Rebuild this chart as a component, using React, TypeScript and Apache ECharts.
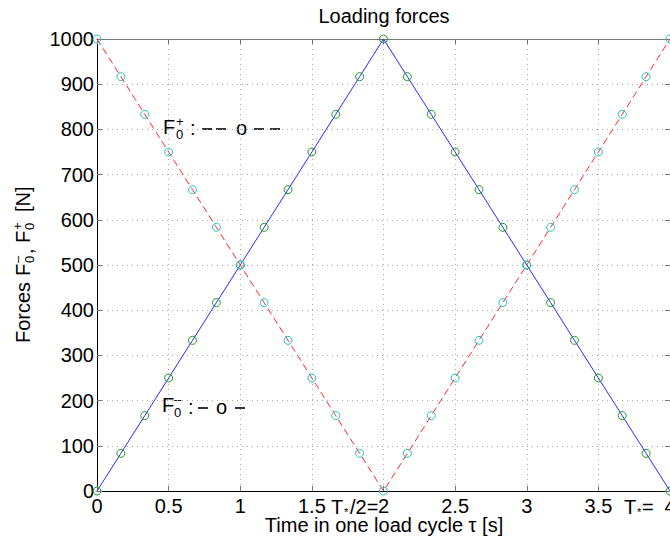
import React, { useEffect, useRef } from 'react';
import * as echarts from 'echarts';

// ---- data ----
const timeValues = [0, 0.1667, 0.3333, 0.5, 0.6667, 0.8333, 1, 1.1667, 1.3333, 1.5, 1.6667, 1.8333, 2, 2.1667, 2.3333, 2.5, 2.6667, 2.8333, 3, 3.1667, 3.3333, 3.5, 3.6667, 3.8333, 4];
const forceMinus = [0, 83.3, 166.7, 250, 333.3, 416.7, 500, 583.3, 666.7, 750, 833.3, 916.7, 1000, 916.7, 833.3, 750, 666.7, 583.3, 500, 416.7, 333.3, 250, 166.7, 83.3, 0];
const forcePlus = [1000, 916.7, 833.3, 750, 666.7, 583.3, 500, 416.7, 333.3, 250, 166.7, 83.3, 0, 83.3, 166.7, 250, 333.3, 416.7, 500, 583.3, 666.7, 750, 833.3, 916.7, 1000];
const xRange = [0, 4];
const xStep = 0.5;
const yRange = [0, 1000];
const yStep = 100;

const FONT = '"Liberation Sans", Arial, Helvetica, sans-serif';

function txt(text: string, x: number, y: number, size: number, align: string = 'left') {
  return {
    type: 'text',
    x,
    y,
    silent: true,
    style: {
      text,
      fontSize: size,
      fontFamily: FONT,
      fill: '#000',
      align,
      verticalAlign: 'middle',
      textAlign: align,
      textVerticalAlign: 'middle',
    },
  };
}

function dash(x: number, y: number) {
  return {
    type: 'line',
    silent: true,
    shape: { x1: x, y1: y, x2: x + 10, y2: y },
    style: { stroke: '#000', lineWidth: 1.6 },
  };
}

export default function App() {
  const ref = useRef<HTMLDivElement>(null);
  useEffect(() => {
    document.body.style.margin = '0';
    if (!ref.current) return;
    const chart = echarts.init(ref.current, undefined, { renderer: 'svg' });
    const grid = { left: 97, right: 0, top: 39, bottom: 53 };
    const dotted = { color: '#a8a8a8', width: 1, type: [1, 4] as any };
    chart.setOption({
      animation: false,
      backgroundColor: '#fff',
      grid: { ...grid, containLabel: false, outerBoundsMode: 'none' },
      xAxis: [
        {
          type: 'value',
          position: 'bottom',
          min: xRange[0],
          max: xRange[1],
          interval: xStep,
          axisLine: { show: true, onZero: false, lineStyle: { color: '#000', width: 1 } },
          axisTick: { show: true, inside: true, length: 5, lineStyle: { color: '#777' } },
          axisLabel: { show: true, fontSize: 20, color: '#000', fontFamily: FONT, margin: 5, showMinLabel: true, showMaxLabel: true, formatter: (v: number) => String(v) },
          splitLine: { show: true, lineStyle: dotted },
        },
        {
          type: 'value',
          position: 'top',
          min: xRange[0],
          max: xRange[1],
          interval: xStep,
          axisLine: { show: true, onZero: false, lineStyle: { color: '#777', width: 1 } },
          axisTick: { show: true, inside: true, length: 5, lineStyle: { color: '#777' } },
          axisLabel: { show: false },
          splitLine: { show: false },
        },
      ],
      yAxis: [
        {
          type: 'value',
          position: 'left',
          min: yRange[0],
          max: yRange[1],
          interval: yStep,
          axisLine: { show: true, onZero: false, lineStyle: { color: '#000', width: 1 } },
          axisTick: { show: true, inside: true, length: 5, lineStyle: { color: '#777' } },
          axisLabel: { show: true, fontSize: 20, color: '#000', fontFamily: FONT, margin: 3, showMinLabel: true, showMaxLabel: true, formatter: (v: number) => String(v) },
          splitLine: { show: true, lineStyle: dotted },
        },
        {
          type: 'value',
          position: 'right',
          min: yRange[0],
          max: yRange[1],
          interval: yStep,
          axisLine: { show: true, onZero: false, lineStyle: { color: '#777', width: 1 } },
          axisTick: { show: true, inside: true, length: 5, lineStyle: { color: '#777' } },
          axisLabel: { show: false },
          splitLine: { show: false },
        },
      ],
      series: [
        {
          type: 'line',
          name: 'F0-',
          xAxisIndex: 0,
          yAxisIndex: 0,
          data: timeValues.map((t, i) => [t, forceMinus[i]]),
          symbol: 'circle',
          symbolSize: 8,
          showSymbol: true,
          clip: false,
          lineStyle: { color: '#2a2aff', width: 1 },
          itemStyle: { color: 'rgba(0,0,0,0)', borderColor: '#1f9a1f', borderWidth: 1 },
          emphasis: { disabled: true },
        },
        {
          type: 'line',
          name: 'F0+',
          xAxisIndex: 0,
          yAxisIndex: 0,
          data: timeValues.map((t, i) => [t, forcePlus[i]]),
          symbol: 'circle',
          symbolSize: 8,
          showSymbol: true,
          clip: false,
          lineStyle: { color: '#ff2a2a', width: 1, type: [7, 4] },
          itemStyle: { color: 'rgba(0,0,0,0)', borderColor: '#20c4c8', borderWidth: 1 },
          emphasis: { disabled: true },
        },
      ],
      graphic: {
        elements: [
          txt('Loading forces', 384, 16, 20, 'center'),
          txt('Time in one load cycle τ [s]', 384, 525, 20, 'center'),
          // T*/2=
          txt('T', 331, 507, 20),
          txt('*', 344, 512, 11),
          txt('/2=', 350, 507, 20),
          // T*=
          txt('T', 624, 507, 20),
          txt('*', 637, 512, 11),
          txt('=', 642, 507, 20),
          // F0+ annotation
          txt('F', 163, 127, 20),
          txt('+', 176, 121, 13),
          txt('0', 176, 134, 13),
          txt(':', 190, 128, 20),
          dash(202, 129),
          dash(216, 129),
          txt('o', 236, 128, 20),
          dash(254, 129),
          dash(270, 129),
          // F0- annotation
          txt('F', 162, 405, 20),
          txt('–', 174, 399, 13),
          txt('0', 174, 412, 13),
          txt(':', 188, 407, 20),
          dash(198, 408),
          txt('o', 216, 407, 20),
          dash(235, 408),
          // y axis name (rotated)
          {
            type: 'group',
            x: 23,
            y: 343,
            rotation: Math.PI / 2,
            silent: true,
            children: [
              txt('Forces', 0, 0, 20),
              txt('F', 67, 0, 20),
              txt('–', 80, -6, 13),
              txt('0', 80, 6, 13),
              txt(',', 89, 3, 20),
              txt('F', 100, 0, 20),
              txt('+', 113, -6, 13),
              txt('0', 113, 6, 13),
              txt('[N]', 131, 0, 20),
            ],
          },
        ],
      },
    });
    return () => chart.dispose();
  }, []);
  return <div ref={ref} style={{ width: 670, height: 544 }} />;
}
